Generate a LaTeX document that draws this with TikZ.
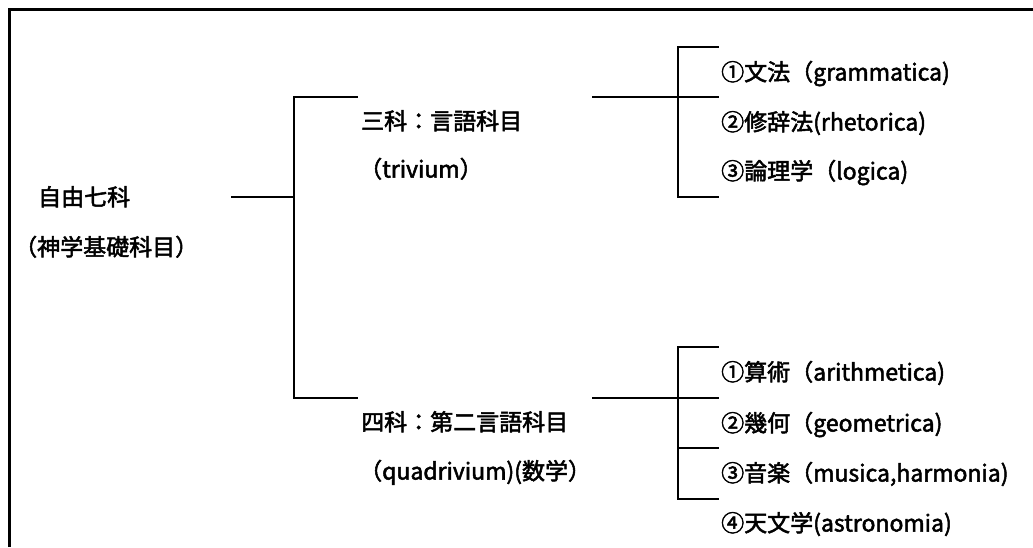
\documentclass[tikz,border=0pt]{standalone}
\usepackage{fontspec}
\setmainfont{Noto Sans CJK JP}[FakeBold=2.2]
\begin{document}
\begin{tikzpicture}[x=1pt,y=-1pt,
  lbl/.style={anchor=west,inner sep=0pt,font=\fontsize{23}{25}\selectfont,text height=20pt,text depth=3pt},
  ln/.style={line width=2.5pt,line cap=rect},
  frame/.style={line width=3pt}]
\useasboundingbox (0,0) rectangle (1033,547);
% frame (top and left only)
\coordinate (fbl) at (9,547);
\coordinate (ftl) at (9,9);
\coordinate (ftr) at (1033,9);
\draw[frame] (fbl) -- (ftl) -- (ftr);
% texts
\node[lbl] (root1) at (38,197) {自由七科};
\node[lbl] (root2) at (14,247) {（神学基礎科目）};
\node[lbl] (tri1) at (361,121) {三科：言語科目};
\node[lbl] (tri2) at (359,169) {（trivium）};
\node[lbl] (qua1) at (361,422) {四科：第二言語科目};
\node[lbl] (qua2) at (359,471) {（quadrivium)(数学）};
\node[lbl] (t1) at (721,72) {①文法（grammatica)};
\node[lbl] (t2) at (721,122) {②修辞法(rhetorica)};
\node[lbl] (t3) at (721,171) {③論理学（logica)};
\node[lbl] (q1) at (721,372) {①算術（arithmetica)};
\node[lbl] (q2) at (721,423) {②幾何（geometrica)};
\node[lbl] (q3) at (721,473) {③音楽（musica,harmonia)};
\node[lbl] (q4) at (721,523) {④天文学(astronomia)};
% root bracket
\coordinate (rs) at (232,197);
\coordinate (rm) at (294,197);
\coordinate (rt) at (294,97);
\coordinate (rb) at (294,398);
\coordinate (rte) at (357,97);
\coordinate (rbe) at (357,398);
\draw[ln] (rs) -- (rm);
\draw[ln] (rte) -- (rt) -- (rb) -- (rbe);
% trivium bracket
\coordinate (ts) at (593,97);
\coordinate (tv1) at (678,47);
\coordinate (tv2) at (678,197);
\coordinate (te0) at (718,47);
\coordinate (te1) at (718,97);
\coordinate (te3) at (718,197);
\draw[ln] (ts) -- (te1);
\draw[ln] (te0) -- (tv1) -- (tv2) -- (te3);
% quadrivium bracket
\coordinate (qs) at (593,398);
\coordinate (qv1) at (678,347);
\coordinate (qv3) at (678,448);
\coordinate (qv4) at (678,499);
\coordinate (qe0) at (718,347);
\coordinate (qe1) at (718,398);
\coordinate (qe2) at (718,448);
\coordinate (qe3) at (718,499);
\draw[ln] (qs) -- (qe1);
\draw[ln] (qe0) -- (qv1) -- (qv4) -- (qe3);
\draw[ln] (qv3) -- (qe2);
\end{tikzpicture}
\end{document}
